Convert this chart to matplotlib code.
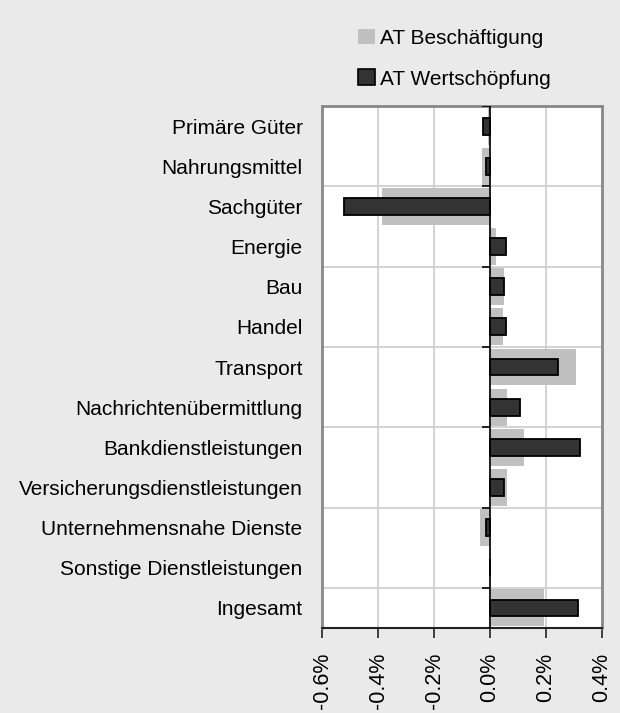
import numpy as np
import matplotlib.pyplot as plt
from matplotlib.patches import Patch

plt.rcParams["font.family"] = ["Liberation Sans", "DejaVu Sans"]

categories = [
    "Primäre Güter",
    "Nahrungsmittel",
    "Sachgüter",
    "Energie",
    "Bau",
    "Handel",
    "Transport",
    "Nachrichtenübermittlung",
    "Bankdienstleistungen",
    "Versicherungsdienstleistungen",
    "Unternehmensnahe Dienste",
    "Sonstige Dienstleistungen",
    "Ingesamt",
]
# values in percent
beschaeftigung = [-0.006, -0.029, -0.386, 0.020, 0.049, 0.045, 0.306, 0.060, 0.120, 0.060, -0.036, 0.0, 0.192]
wertschoepfung = [-0.024, -0.015, -0.523, 0.057, 0.050, 0.057, 0.244, 0.107, 0.322, 0.050, -0.015, 0.0, 0.315]
xticks = [-0.6, -0.4, -0.2, 0.0, 0.2, 0.4]

bg = "#eaeaea"
fig = plt.figure(figsize=(6.2, 7.13), dpi=100, facecolor=bg)
ax = fig.add_axes([0.5194, 0.1192, 0.4516, 0.7321])
ax.set_facecolor("white")

y = np.arange(len(categories))
ax.barh(y, beschaeftigung, height=0.92, color="#c0c0c0", zorder=2)
ax.barh(y, wertschoepfung, height=0.42, color="#333333", edgecolor="black", linewidth=1.3, zorder=3)

ax.set_xlim(-0.6, 0.4)
ax.set_ylim(len(categories) - 0.5, -0.5)
ax.set_xticks(xticks)
ax.set_xticklabels([f"{v:.1f}%" for v in xticks], rotation=90, fontsize=15.5)
ax.tick_params(axis="x", length=7, width=1.2, color="#222222", pad=11)

ax.set_yticks(y)
ax.set_yticklabels(categories, fontsize=15)
ax.tick_params(axis="y", length=0, pad=14)
bounds = np.arange(-0.5, len(categories) - 0.5, 2)
ax.set_yticks(bounds[1:], minor=True)
ax.tick_params(axis="y", which="minor", length=0)

ax.grid(axis="x", color="#cccccc", linewidth=1.2, zorder=0)
ax.grid(axis="y", which="minor", color="#cccccc", linewidth=1.2, zorder=0)
ax.set_axisbelow(True)

# zero axis with small tick marks at category group boundaries
ax.axvline(0, color="black", linewidth=1.2, zorder=4)
ax.hlines(bounds, -0.029, 0, color="black", linewidth=1.2, zorder=4)

for s in ["left", "right", "top"]:
    ax.spines[s].set_color("#888888")
    ax.spines[s].set_linewidth(2)
ax.spines["bottom"].set_color("#222222")
ax.spines["bottom"].set_linewidth(1.5)

handles = [
    Patch(facecolor="#c0c0c0", edgecolor="none", label="AT Beschäftigung"),
    Patch(facecolor="#333333", edgecolor="black", linewidth=1.2, label="AT Wertschöpfung"),
]
fig.legend(
    handles=handles,
    loc="upper left",
    bbox_to_anchor=(0.577, 0.960),
    frameon=False,
    fontsize=15,
    borderpad=0,
    borderaxespad=0,
    handlelength=0.82,
    handleheight=0.8,
    handletextpad=0.25,
    labelspacing=1.04,
)

plt.savefig("out.png", dpi=100, facecolor=bg)
